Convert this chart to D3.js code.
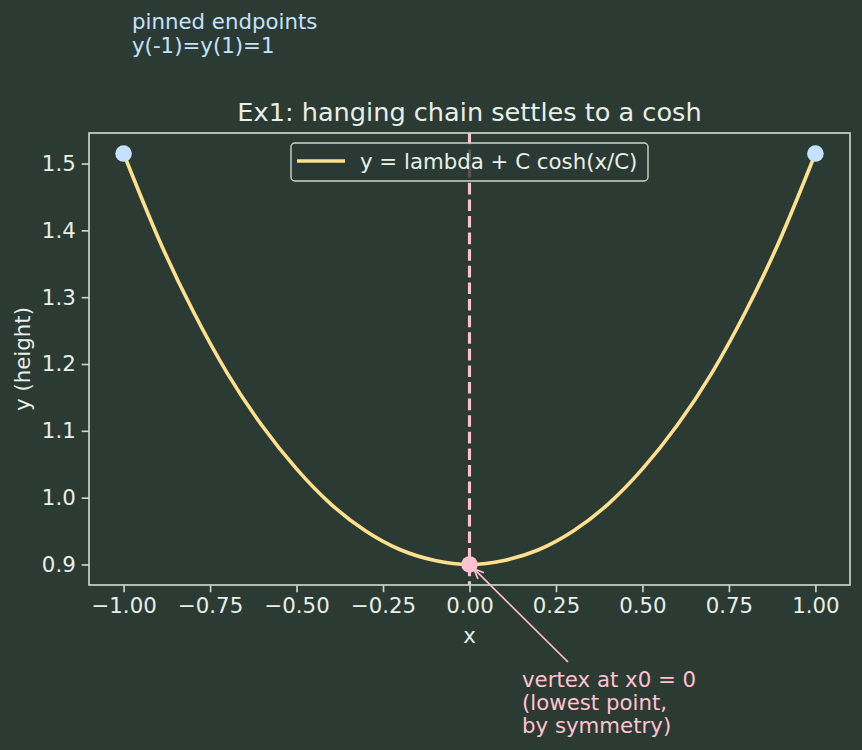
<!DOCTYPE html>
<html>
<head>
<meta charset="utf-8">
<script src="https://cdn.jsdelivr.net/npm/d3@7"></script>
<style>
  html, body { margin: 0; padding: 0; background: #2b3a33; }
  svg { display: block; font-family: "DejaVu Sans", sans-serif; }
</style>
</head>
<body>
<div id="chart"></div>
<script>
// values
const chainX = [-1.0, -0.9, -0.8, -0.7, -0.6, -0.5, -0.4, -0.3, -0.2, -0.1, 0.0,
                0.1, 0.2, 0.3, 0.4, 0.5, 0.6, 0.7, 0.8, 0.9, 1.0];
const chainY = [1.515, 1.389, 1.280, 1.186, 1.108, 1.043, 0.990, 0.950, 0.922, 0.906, 0.900,
                0.906, 0.922, 0.950, 0.990, 1.043, 1.108, 1.186, 1.280, 1.389, 1.515];
const pinX = [-1, 1];
const pinY = [1.515, 1.515];
const vertexX = [0];
const vertexY = [0.9];
const xTicks = [-1, -0.75, -0.5, -0.25, 0, 0.25, 0.5, 0.75, 1];
const yTicks = [0.9, 1.0, 1.1, 1.2, 1.3, 1.4, 1.5];

const W = 862, H = 750;
const m = { left: 89, right: 850, top: 133, bottom: 585 };
const bg = "#2b3a33", fg = "#e8efe9", spine = "#c9d6cd";
const curveCol = "#ffe08c", pink = "#ffc2cf", blue = "#c4e2ff";
const fs = 21.3;

const svg = d3.select("#chart").append("svg").attr("width", W).attr("height", H);
svg.append("rect").attr("width", W).attr("height", H).attr("fill", bg);

const x = d3.scaleLinear().domain([-1.1, 1.1]).range([m.left, m.right]);
const y = d3.scaleLinear().domain([0.8693, 1.5457]).range([m.bottom, m.top]);

// dashed symmetry line
svg.append("line")
    .attr("x1", x(0)).attr("x2", x(0))
    .attr("y1", m.top).attr("y2", m.bottom)
    .attr("stroke", pink).attr("stroke-width", 3.1)
    .attr("stroke-dasharray", "11.6,5");

const line = d3.line().x((d, i) => x(chainX[i])).y((d, i) => y(chainY[i])).curve(d3.curveNatural);
svg.append("path").datum(chainY)
    .attr("d", line)
    .attr("fill", "none").attr("stroke", curveCol).attr("stroke-width", 3.6);

svg.selectAll(".pin").data(pinX).join("circle")
    .attr("class", "pin")
    .attr("cx", (d) => x(d)).attr("cy", (d, i) => y(pinY[i]))
    .attr("r", 8.3).attr("fill", blue);

svg.selectAll(".vertex").data(vertexX).join("circle")
    .attr("class", "vertex")
    .attr("cx", (d) => x(d)).attr("cy", (d, i) => y(vertexY[i]))
    .attr("r", 8.3).attr("fill", pink);

// axes
const xAxis = svg.append("g").attr("transform", `translate(0,${m.bottom})`)
    .call(d3.axisBottom(x).tickValues(xTicks).tickFormat(d3.format(".2f")).tickSize(7.3).tickPadding(6).tickSizeOuter(0));
const yAxis = svg.append("g").attr("transform", `translate(${m.left},0)`)
    .call(d3.axisLeft(y).tickValues(yTicks).tickFormat(d3.format(".1f")).tickSize(7.3).tickPadding(6).tickSizeOuter(0));
[xAxis, yAxis].forEach((g) => {
    g.select(".domain").remove();
    g.selectAll(".tick line").attr("stroke", spine).attr("stroke-width", 1.67);
    g.selectAll(".tick text").attr("fill", fg).attr("font-size", fs).attr("font-family", "DejaVu Sans");
});

svg.append("rect")
    .attr("x", m.left).attr("y", m.top)
    .attr("width", m.right - m.left).attr("height", m.bottom - m.top)
    .attr("fill", "none").attr("stroke", spine).attr("stroke-width", 1.67);

// legend
const lg = svg.append("g").attr("transform", "translate(291,143)");
lg.append("rect").attr("width", 357).attr("height", 38).attr("rx", 4)
    .attr("fill", bg).attr("fill-opacity", 0.8)
    .attr("stroke", spine).attr("stroke-width", 1.4);
lg.append("line").attr("x1", 6).attr("x2", 54).attr("y1", 18).attr("y2", 18)
    .attr("stroke", curveCol).attr("stroke-width", 3.6);
lg.append("text").attr("x", 69).attr("y", 26).attr("fill", fg).attr("font-size", fs)
    .text("y = lambda + C cosh(x/C)");

// labels
svg.append("text").attr("x", (m.left + m.right) / 2).attr("y", 121)
    .attr("text-anchor", "middle").attr("fill", fg).attr("font-size", 25.6)
    .text("Ex1: hanging chain settles to a cosh");
svg.append("text").attr("x", (m.left + m.right) / 2).attr("y", 643)
    .attr("text-anchor", "middle").attr("fill", fg).attr("font-size", fs).text("x");
svg.append("text").attr("transform", `translate(30,${(m.top + m.bottom) / 2}) rotate(-90)`)
    .attr("text-anchor", "middle").attr("fill", fg).attr("font-size", fs).text("y (height)");

const note = svg.append("text").attr("x", 132).attr("y", 29).attr("fill", blue).attr("font-size", fs);
["pinned endpoints", "y(-1)=y(1)=1"].forEach((t, i) =>
    note.append("tspan").attr("x", 132).attr("dy", i ? 24 : 0).text(t));

// vertex annotation
const vx = x(vertexX[0]), vy = y(vertexY[0]);
const ax = 568, ay = 662;
const ang = Math.atan2(vy - ay, vx - ax);
const tipX = vx - Math.cos(ang) * 6, tipY = vy - Math.sin(ang) * 6;
svg.append("line").attr("x1", ax).attr("y1", ay).attr("x2", tipX).attr("y2", tipY)
    .attr("stroke", pink).attr("stroke-width", 1.7);
const hl = 11, ha = 0.4;
svg.append("path")
    .attr("d", `M${tipX - hl * Math.cos(ang - ha)},${tipY - hl * Math.sin(ang - ha)} L${tipX},${tipY} L${tipX - hl * Math.cos(ang + ha)},${tipY - hl * Math.sin(ang + ha)}`)
    .attr("fill", "none").attr("stroke", pink).attr("stroke-width", 1.7);
const vt = svg.append("text").attr("x", 522).attr("y", 687).attr("fill", pink).attr("font-size", fs);
["vertex at x0 = 0", "(lowest point,", "by symmetry)"].forEach((t, i) =>
    vt.append("tspan").attr("x", 522).attr("dy", i ? 23 : 0).text(t));
</script>
</body>
</html>
